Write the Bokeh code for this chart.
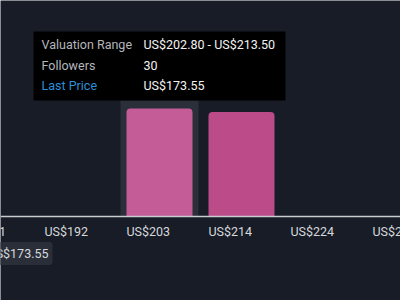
from bokeh.plotting import figure
from bokeh.models import Range1d, FixedTicker, Label, BoxAnnotation
from bokeh.core.properties import value
from bokeh.embed import file_html
from bokeh.resources import INLINE

# ---- data ----
bin_edges = [181.40, 192.10, 202.80, 213.50, 224.20, 234.90]
followers = [0, 0, 30, 29, 0]
tick_labels = ["US$181", "US$192", "US$203", "US$214", "US$224", "US$235"]
last_price = 173.55
hover_bin = 2

BG = "#181c26"
FONT = "Roboto"

W, H = 400, 300
AXIS_Y = 216                       # pixel row of the baseline
bw = bin_edges[1] - bin_edges[0]
KX = 82 / bw                       # px per dollar
X0 = bin_edges[2] - 126 / KX       # left edge of view
X1 = X0 + W / KX
KY = 3.6                           # px per follower

def sx(px):
    return X0 + px / KX

def sy(py):
    return (AXIS_Y - py) / KY

p = figure(width=W, height=H, output_backend="svg", toolbar_location=None,
           x_range=Range1d(X0, X1), y_range=Range1d(sy(H), sy(0)),
           min_border_left=0, min_border_right=0, min_border_top=0,
           min_border_bottom=0)
p.background_fill_color = BG
p.border_fill_color = BG
p.outline_line_color = None
p.grid.visible = False
p.yaxis.visible = False

# hover highlight band
lo = bin_edges[hover_bin]
hi = bin_edges[hover_bin + 1]
pad = 6 / KX
p.quad(left=[lo - pad], right=[lo + bw * 66 / 82 + pad], bottom=[0], top=[sy(100)],
       fill_color="#2a2f3a", line_color=None)

lefts = [bin_edges[i] for i in range(len(followers)) if followers[i] > 0]
rights = [bin_edges[i] + (bin_edges[i + 1] - bin_edges[i]) * 66 / 82
          for i in range(len(followers)) if followers[i] > 0]
tops = [followers[i] for i in range(len(followers)) if followers[i] > 0]
colors = ["#c45d97" if i == hover_bin else "#bc4b8a"
          for i in range(len(followers)) if followers[i] > 0]
p.quad(left=lefts, right=rights, bottom=0, top=tops, fill_color=colors,
       line_color=None, border_radius=(4, 4, 0, 0))

# x axis line drawn at y = 0
ax = p.xaxis[0]
ax.fixed_location = 0
ax.ticker = FixedTicker(ticks=bin_edges)
ax.major_label_text_font_size = "0px"
ax.major_label_text_color = None
ax.axis_line_color = "#c8cbd0"
ax.axis_line_width = 1.5
ax.major_tick_line_color = None
ax.minor_tick_line_color = None
ax.major_tick_out = 0
ax.major_tick_in = 0

# tick labels, left-aligned at each bin edge
p.text(x=bin_edges, y=[sy(231)] * len(bin_edges), text=tick_labels,
       text_align="left", text_baseline="middle", text_font=value(FONT),
       text_font_size="12.5px", text_color="#d6d8dc")

# last price tag
p.add_layout(Label(x=sx(52), y=sy(253), text=f"US${last_price:.2f}",
                   text_align="right", text_baseline="middle",
                   text_font=FONT, text_font_size="12.5px", text_color="#d6d8dc",
                   background_fill_color="#2a2e38", padding=4, border_radius=3))

# tooltip
p.add_layout(BoxAnnotation(left=sx(33), right=sx(285), top=sy(31), bottom=sy(100),
                           fill_color="#000000", fill_alpha=1, line_color=None))
rows = [("Valuation Range", f"US${lo:.2f} - US${hi:.2f}", "#b4b7bc"),
        ("Followers", f"{followers[hover_bin]}", "#b4b7bc"),
        ("Last Price", f"US${last_price:.2f}", "#2a8fd8")]
for k, (lab, val, col) in enumerate(rows):
    yy = sy(44 + k * 20.5)
    p.add_layout(Label(x=sx(41), y=yy, text=lab, text_baseline="middle",
                       text_font=FONT, text_font_size="12.5px", text_color=col))
    p.add_layout(Label(x=sx(143), y=yy, text=val, text_baseline="middle",
                       text_font=FONT, text_font_size="12.5px", text_color="#f2f2f2"))

open("out.html", "w").write(file_html(p, INLINE))
